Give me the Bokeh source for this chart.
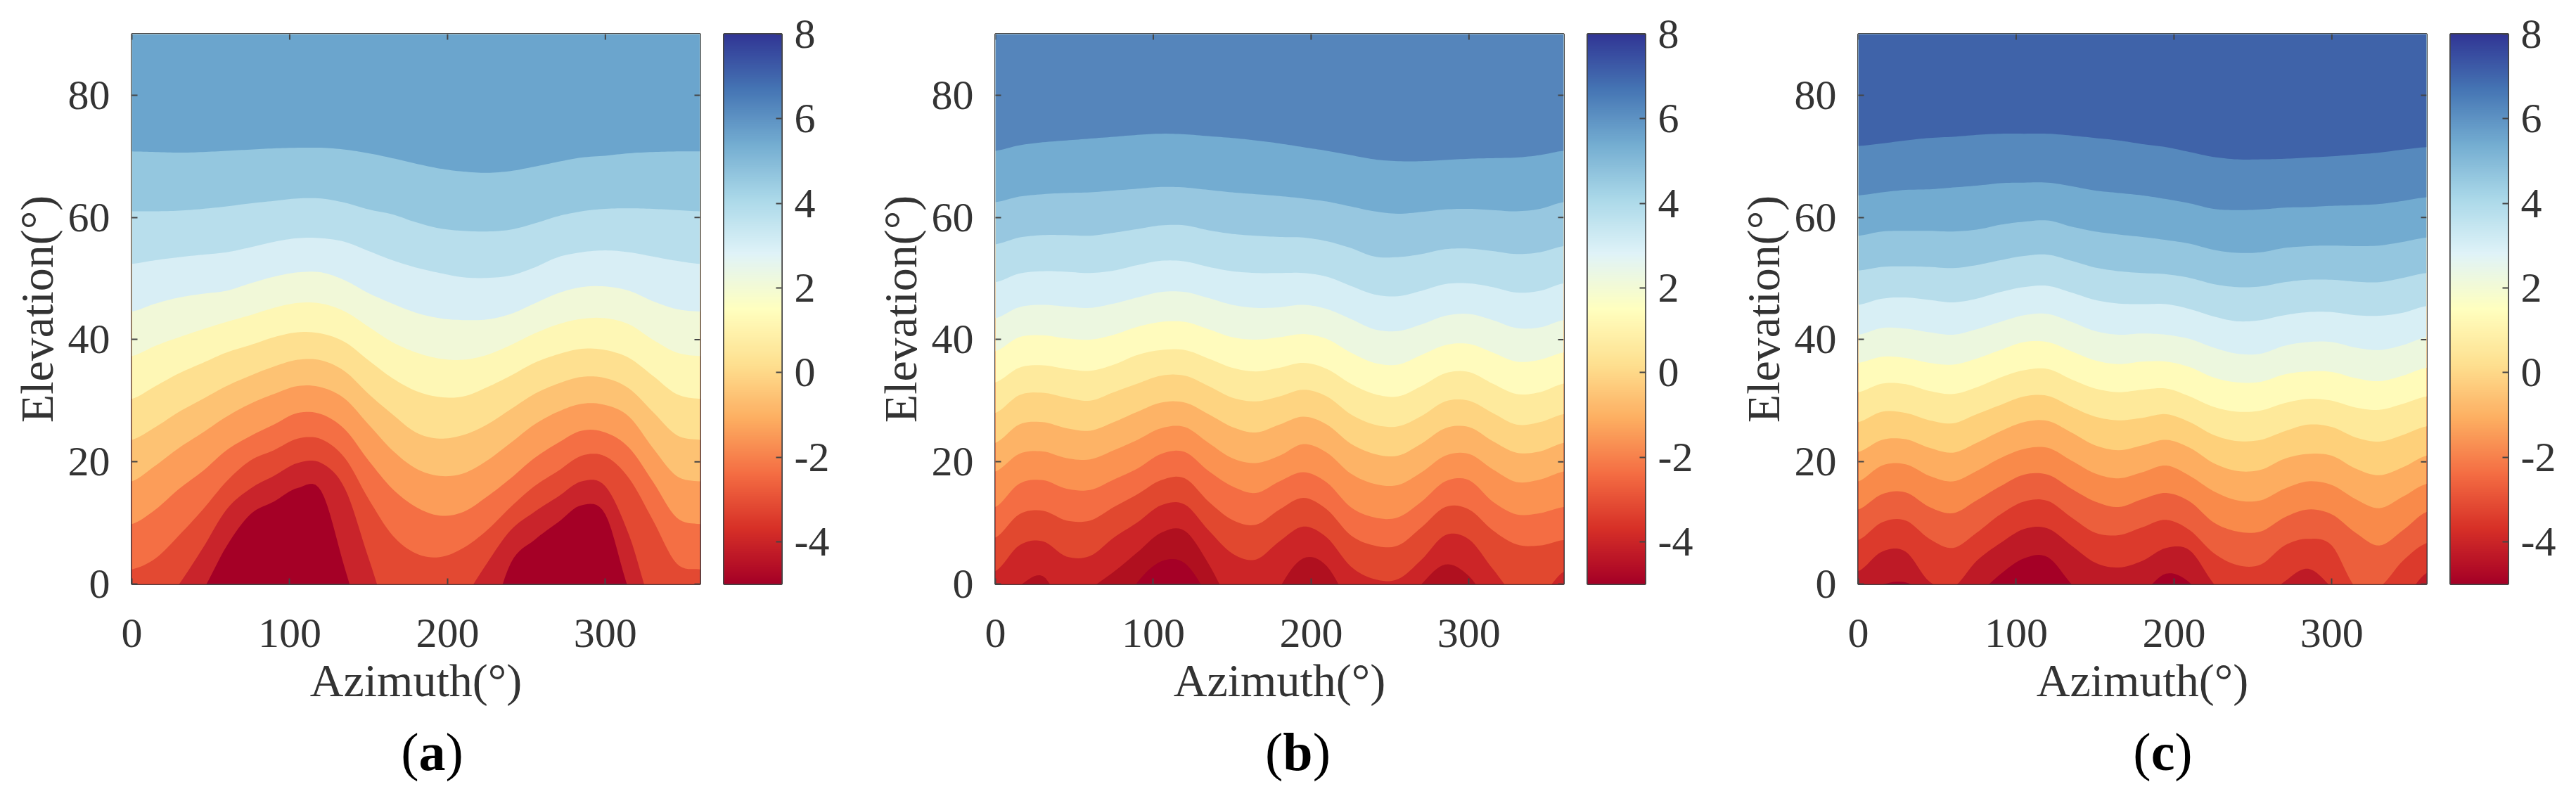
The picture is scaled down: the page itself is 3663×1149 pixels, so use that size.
import numpy as np
from bokeh.core.properties import value
from bokeh.embed import file_html
from bokeh.layouts import column, row
from bokeh.models import FixedTicker, LinearColorMapper, Range1d
from bokeh.plotting import figure
from bokeh.resources import INLINE

AZ = [0, 15, 30, 45, 60, 75, 90, 105, 120, 135, 150, 165, 180, 195, 210, 225, 240, 255, 270, 285, 300, 315, 330, 345, 360]

# Panel (a): contour boundaries, top to bottom
a01 = [70.8,70.7,70.6,70.7,70.9,71.1,71.3,71.4,71.4,71.1,70.5,69.7,68.8,68.0,67.5,67.3,67.6,68.3,69.1,69.8,70.1,70.5,70.7,70.8,70.8]
a02 = [61.0,61.0,61.1,61.4,61.8,62.3,62.7,63.1,63.1,62.4,61.3,60.5,59.2,58.2,57.8,57.7,58.0,59.0,60.2,61.0,61.4,61.5,61.4,61.2,61.0]
a03 = [52.4,53.0,53.5,53.9,54.3,55.1,56.0,56.6,56.6,56.0,54.5,53.0,51.8,50.9,50.2,50.1,50.5,51.8,53.5,54.3,54.6,54.3,53.6,52.9,52.4]
a04 = [44.6,45.9,46.9,47.5,48.0,49.2,50.3,51.0,51.0,49.7,47.6,45.9,44.4,43.5,43.2,43.3,44.2,45.9,47.6,48.6,48.7,48.0,46.3,45.0,44.6]
a05 = [37.3,39.0,40.4,41.7,42.9,44.0,45.2,46.0,45.9,44.6,42.1,39.6,37.9,36.9,36.7,37.5,39.1,41.0,42.5,43.4,43.5,42.5,40.0,37.9,37.3]
a06 = [30.3,32.4,34.5,36.2,37.9,39.1,40.4,41.2,41.0,39.6,36.6,33.7,31.6,30.6,30.7,32.2,34.1,36.2,37.6,38.5,38.3,37.0,34.1,31.1,30.3]
a07 = [23.6,25.7,28.2,30.3,32.4,34.1,35.6,36.7,36.6,34.8,31.1,27.8,24.8,23.8,24.4,26.1,28.6,31.1,32.8,33.9,33.7,32.0,28.2,24.4,23.6]
a08 = [16.8,19.4,22.3,24.8,27.4,29.5,31.1,32.4,32.2,30.3,26.1,21.9,18.9,17.7,18.1,20.2,23.1,26.1,28.2,29.5,29.3,27.4,22.3,17.7,16.8]
a09 = [9.8,12.2,15.6,18.5,21.9,24.2,26.1,28.0,27.8,25.3,20.2,15.6,12.6,11.2,11.8,14.3,17.3,20.6,23.1,25.1,24.8,22.3,16.8,10.9,9.8]
a10 = [2.4,4.2,8.0,12.2,16.8,20.2,21.9,23.8,23.7,20.6,13.9,8.0,5.0,4.4,5.9,8.8,12.6,16.0,18.5,21.0,20.9,17.3,10.5,3.4,2.4]
a11 = [-10,-5,0,5.9,12.2,15.6,17.7,19.8,19.8,15.6,4.2,-7,-12,-12,-3,3.4,8.8,11.8,14.3,16.8,16.0,8.0,-4,-8,-10]
a12 = [-12,-9,-6,-1,6.2,11.4,13.5,15.7,15.2,2.5,-10,-16,-20,-20,-16,-8,3.4,7.2,10.1,12.9,11.4,-1,-8,-12,-12]
A_CURVES = [a01,a02,a03,a04,a05,a06,a07,a08,a09,a10,a11,a12]
A_COLORS = ["#6BA5CD","#94C7DF","#B8DEEC","#D8EEF5","#F1F8D8","#FEF7B5","#FEE090","#FDC273","#FC9D59","#F46F44","#E34932","#C9242B","#A50026"]

# Panel (b)
b01 = [70.9,71.8,72.3,72.6,72.9,73.2,73.5,73.7,73.6,73.3,73.0,72.6,72.1,71.5,70.9,70.2,69.5,69.2,69.2,69.4,69.6,69.7,69.8,70.2,70.9]
b02 = [62.5,63.4,63.8,64.0,64.1,64.4,64.7,65.0,64.9,64.5,64.1,63.8,63.5,63.1,62.6,61.8,61.0,60.6,60.9,61.3,61.4,61.2,61.0,61.4,62.5]
b03 = [55.6,56.7,57.1,57.1,57.0,57.5,58.1,58.7,58.7,57.9,57.3,57.0,56.8,56.7,56.1,55.0,53.6,53.5,54.0,54.8,54.9,54.5,54.0,54.3,55.3]
b04 = [49.4,50.8,51.2,51.1,50.9,51.3,52.2,52.9,52.8,51.9,51.2,50.9,50.9,50.9,50.3,48.8,47.4,47.1,48.0,49.1,49.2,48.6,47.7,48.0,49.2]
b05 = [43.5,45.3,45.7,45.4,45.2,45.9,46.9,47.8,47.8,46.8,45.7,45.2,45.3,45.7,45.0,43.4,41.7,41.4,42.5,43.9,44.2,43.2,41.9,42.0,43.2]
b06 = [38.1,40.4,40.7,40.2,40.0,40.8,42.1,42.9,42.9,41.7,40.4,40.0,40.4,40.9,40.1,37.9,36.2,35.9,37.5,39.1,39.3,37.9,36.4,36.7,37.9]
b07 = [33.0,35.4,35.8,35.2,34.9,35.9,37.5,38.3,38.3,36.9,35.4,34.8,35.4,36.2,35.2,32.8,31.1,30.7,32.4,34.5,34.7,32.8,31.1,31.4,32.8]
b08 = [28.0,30.9,31.3,30.5,30.0,31.4,32.8,34.1,34.1,32.4,30.5,29.9,30.7,31.8,30.7,27.8,26.1,25.8,27.5,29.9,30.0,28.0,26.1,26.5,27.8]
b09 = [23.1,26.1,26.5,25.5,25.1,26.5,28.2,29.7,29.7,27.8,25.7,24.8,26.1,27.4,26.1,23.0,21.3,21.0,23.0,25.5,25.7,23.4,21.5,21.7,23.1]
b10 = [18.4,21.3,21.7,20.6,20.4,21.9,23.6,25.5,25.7,23.1,20.6,19.8,21.0,22.9,21.5,18.1,16.4,16.2,18.3,21.0,21.3,18.8,16.7,17.1,18.4]
b11 = [12.6,16.4,17.0,15.6,15.4,17.1,18.9,21.3,21.6,18.5,16.0,14.9,16.8,18.3,16.6,12.6,10.9,10.9,13.5,16.8,17.0,13.5,11.4,11.6,12.6]
b12 = [7.6,11.4,12.0,10.4,10.4,12.6,14.7,17.0,17.3,13.5,10.5,9.7,12.2,14.1,12.2,8.0,6.3,6.3,9.3,12.6,12.2,8.8,6.5,6.3,7.2]
b13 = [2.1,6.3,7.0,4.5,4.6,7.6,10.1,12.9,13.0,8.8,5.0,4.0,7.0,9.4,7.6,2.9,0.8,0.8,4.0,8.0,7.3,2.5,-2,-2,2]
b14 = [-3,-0.3,1.3,-4,-0.8,2,5.2,8.4,8.7,3.3,-4,-10,-0.7,4.2,2.9,-4,-12,-5,0,3.2,1.3,-4,-6,-6,-5]
b15 = [-8,-8,-8,-8,-8,-6,0.3,3.7,3.4,-2,-8,-8,-8,-8,-8,-8,-8,-8,-8,-8,-8,-8,-8,-8,-8]
B_CURVES = [b01,b02,b03,b04,b05,b06,b07,b08,b09,b10,b11,b12,b13,b14,b15]
B_COLORS = ["#5585BB","#73ACD1","#97C7E0","#B8DEEC","#D6EEF5","#ECF7E0","#FFFBBD","#FEEA9D","#FED481","#FDB366","#FB9251","#F46D43","#E1482F","#CC2527","#B0101F","#A50026"]

# Panel (c)
c01 = [71.7,72.1,72.6,73.0,73.2,73.5,73.7,73.7,73.7,73.4,73.0,72.6,72.0,71.5,70.7,69.9,69.5,69.5,69.6,69.8,70.0,70.3,70.6,71.1,71.5]
c02 = [63.6,64.1,64.5,64.6,64.9,65.2,65.6,65.7,65.7,65.1,64.4,64.0,63.6,63.0,62.3,61.4,61.2,61.3,61.6,61.7,61.9,62.0,62.2,62.7,63.3]
c03 = [57.0,57.7,57.8,57.8,57.7,58.0,58.8,59.3,59.5,58.5,57.7,57.2,56.8,56.3,55.7,54.7,54.2,54.3,55.0,55.3,55.4,55.3,55.4,56.0,56.7]
c04 = [51.3,51.9,52.0,51.9,51.7,52.2,53.0,53.7,53.9,52.9,51.8,51.2,50.9,50.7,50.1,49.1,48.6,48.7,49.4,49.8,49.8,49.5,49.4,50.1,50.9]
c05 = [45.7,46.7,46.9,46.5,46.1,46.7,47.8,48.6,48.8,47.7,46.5,45.9,45.8,45.8,45.0,43.8,43.0,43.2,44.0,44.5,44.5,44.0,43.9,44.4,45.5]
c06 = [40.8,41.9,41.8,41.2,40.8,41.7,42.9,44.0,44.2,42.9,41.4,40.8,41.0,40.8,40.1,38.7,37.7,37.7,39.0,39.6,39.6,38.7,38.3,39.1,40.4]
c07 = [36.2,37.2,37.0,36.2,35.9,36.9,38.3,39.6,39.6,38.1,36.6,36.0,36.4,36.4,35.5,33.8,33.0,33.1,34.3,34.8,34.7,33.7,33.2,34.1,35.4]
c08 = [31.4,32.8,32.7,31.6,31.1,32.2,33.8,35.0,35.2,33.5,32.0,31.4,31.8,32.0,30.7,29.0,28.2,28.4,29.6,30.3,30.0,28.9,28.5,29.5,30.7]
c09 = [26.5,28.2,28.0,26.8,26.3,27.8,29.3,30.7,30.8,29.0,27.4,26.8,27.2,27.8,26.5,24.4,23.4,23.6,25.0,26.1,25.7,24.0,23.3,24.4,25.8]
c10 = [21.6,23.6,23.7,22.3,21.5,23.1,25.0,26.5,26.7,24.8,22.7,21.9,22.7,23.6,22.3,19.8,18.5,18.7,20.5,21.3,21.0,18.9,17.8,19.1,21.0]
c11 = [16.8,19.4,19.6,17.7,16.8,18.5,20.6,22.1,22.3,20.2,18.1,17.3,18.3,19.4,17.7,15.2,13.7,13.7,15.6,16.8,16.2,13.9,12.4,14.3,16.4]
c12 = [12.2,14.7,15.0,12.6,11.6,13.7,16.0,17.9,17.9,15.6,13.5,12.6,13.9,14.9,13.5,10.1,8.6,8.6,10.9,12.2,11.4,8.4,6.3,8.8,11.8]
c13 = [7.2,10.1,10.4,7.4,5.9,8.4,11.4,13.5,13.6,10.9,8.4,8.0,9.3,10.5,8.8,5.1,3.1,3.2,6.3,7.4,6.3,-0.5,-0.5,3.8,6.7]
c14 = [2.1,5.3,5.3,0.4,-0.5,3.8,6.7,9.0,9.1,6.3,3.5,2.7,3.8,5.9,5.5,0.1,-4,-3,0.4,2.5,-0.6,-5,-8,-3,1.8]
c15 = [-2,-0.1,0.25,-2,-6,-2,1.6,4.2,4.4,0,-4,-5,-1.6,1.7,0.2,-5,-6,-6,-6,-6,-6,-6,-6,-6,-3]
C_CURVES = [c01,c02,c03,c04,c05,c06,c07,c08,c09,c10,c11,c12,c13,c14,c15]
C_COLORS = ["#3F63A9","#5689BD","#72ABD0","#94C6DF","#B7DDEB","#D8EFF5","#ECF7DE","#FFFBBA","#FEE99A","#FED07A","#FDAD60","#F98A4A","#EC5F3C","#DC3A2C","#BE1A26","#A50026"]

X_TICKS = [0, 100, 200, 300]
Y_TICKS = [0, 20, 40, 60, 80]
CB_TICKS = [-4, -2, 0, 2, 4, 6, 8]
CB_LABELS = {-4: "-4", -2: "-2", 0: "0", 2: "2", 4: "4", 6: "6", 8: "8"}
CB_ANCHORS = ["#a50026","#d73027","#f46d43","#fdae61","#fee090","#ffffbf","#e0f3f8","#abd9e9","#74add1","#4575b4","#313695"]
LETTERS = ["a", "b", "c"]

FONT = "Liberation Serif"
INK = "#333333"
FRAME = "#444444"
TICK_PX = 60
TITLE_PX = 66
TAG_PX = 76
TICK_LEN = 8
FRAME_W, FRAME_H, CB_W = 808, 782, 82
TOP, BOTTOM = 48, 200
PAGE_W, CAPTION_H, CAPTION_BASE, CAPTION_PULL = 3655, 111, 48, 25
CAPTION_CENTERS = {"a": 614, "b": 1845, "c": 3075}
CAPTION_EM = {"a": 0.5, "b": 0.556, "c": 0.444}


def smooth(x, y, steps=8):
    """Draw-time Catmull-Rom outline through the read values; it passes exactly through each one."""
    x, y = np.asarray(x, float), np.asarray(y, float)
    px, py = [], []
    for i in range(len(x) - 1):
        p0 = y[max(i - 1, 0)]
        p1, p2 = y[i], y[i + 1]
        p3 = y[min(i + 2, len(y) - 1)]
        t = np.arange(steps) / steps
        px.extend(x[i] + t * (x[i + 1] - x[i]))
        py.extend(0.5 * (2 * p1 + (p2 - p0) * t + (2 * p0 - 5 * p1 + 4 * p2 - p3) * t ** 2
                         + (3 * p1 - p0 - 3 * p2 + p3) * t ** 3))
    px.append(x[-1])
    py.append(y[-1])
    return np.array(px), np.array(py)


def gradient():
    rgb = np.array([[int(c[i:i + 2], 16) for i in (1, 3, 5)] for c in CB_ANCHORS], float)
    pos = np.linspace(0, 1, len(CB_ANCHORS))
    t = np.linspace(0, 1, 512)
    chans = [np.interp(t, pos, rgb[:, k]).round().astype(int) for k in range(3)]
    return ["#%02x%02x%02x" % (r, g, b) for r, g, b in zip(*chans)]


def main_panel(curves, colors, left):
    p = figure(frame_width=FRAME_W, frame_height=FRAME_H, x_range=Range1d(0, 360), y_range=Range1d(0, 90),
               toolbar_location=None, output_backend="svg",
               min_border_left=left, min_border_right=10, min_border_top=TOP, min_border_bottom=BOTTOM,
               x_axis_label="Azimuth(°)", y_axis_label="Elevation(°)")
    p.grid.visible = False
    p.outline_line_color = FRAME
    p.outline_line_width = 3
    az = np.array(AZ, float)
    p.varea(az, y1=np.zeros_like(az), y2=np.full_like(az, 90.0), fill_color=colors[-1])
    for curve, color in zip(reversed(curves), reversed(colors[:-1])):
        sx, sy = smooth(AZ, curve)
        p.varea(sx, y1=sy, y2=np.full_like(sx, 90.0), fill_color=color)
    for ax, ticks in ((p.xaxis[0], X_TICKS), (p.yaxis[0], Y_TICKS)):
        ax.ticker = FixedTicker(ticks=ticks)
        ax.major_tick_in, ax.major_tick_out = TICK_LEN, 0
        ax.minor_tick_line_color = None
        ax.major_tick_line_color = FRAME
        ax.major_tick_line_width = 2
        ax.axis_line_color = None
        ax.major_label_text_font = FONT
        ax.major_label_text_font_size = f"{TICK_PX}px"
        ax.major_label_text_color = INK
        ax.axis_label_text_font = FONT
        ax.axis_label_text_font_style = "normal"
        ax.axis_label_text_font_size = f"{TITLE_PX}px"
        ax.axis_label_text_color = INK
    p.xaxis[0].major_label_standoff = 50
    p.xaxis[0].axis_label_standoff = 8
    p.yaxis[0].major_label_standoff = 31
    p.yaxis[0].axis_label_standoff = 5
    # MATLAB-style box: the same inward ticks on the top and right edges
    p.ray(x=X_TICKS, y=[90] * len(X_TICKS), length=TICK_LEN, length_units="screen", angle=-np.pi / 2,
          line_color=FRAME, line_width=2)
    p.ray(x=[360] * len(Y_TICKS), y=Y_TICKS, length=TICK_LEN, length_units="screen", angle=np.pi,
          line_color=FRAME, line_width=2)
    return p


def colorbar(right):
    p = figure(frame_width=CB_W, frame_height=FRAME_H, x_range=Range1d(0, 1), y_range=Range1d(-5, 8),
               toolbar_location=None, output_backend="svg", y_axis_location="right",
               min_border_left=24, min_border_right=right, min_border_top=TOP, min_border_bottom=BOTTOM)
    p.grid.visible = False
    p.xaxis.visible = False
    p.outline_line_color = FRAME
    p.outline_line_width = 3
    mapper = LinearColorMapper(palette=gradient(), low=-5, high=8)
    p.image(image=[np.linspace(-5, 8, 512).reshape(512, 1)], x=0, y=-5, dw=1, dh=13, color_mapper=mapper)
    ax = p.yaxis[0]
    ax.ticker = FixedTicker(ticks=CB_TICKS)
    ax.major_label_overrides = CB_LABELS
    ax.major_tick_in, ax.major_tick_out = TICK_LEN, 0
    ax.minor_tick_line_color = None
    ax.major_tick_line_color = FRAME
    ax.major_tick_line_width = 2
    ax.axis_line_color = None
    ax.major_label_standoff = 18
    ax.major_label_text_font = FONT
    ax.major_label_text_font_size = f"{TICK_PX}px"
    ax.major_label_text_color = INK
    return p


def captions():
    # x and y in this strip run in page pixels; brackets are regular, the letter bold
    p = figure(width=PAGE_W, height=CAPTION_H, x_range=Range1d(0, PAGE_W), y_range=Range1d(0, CAPTION_H),
               toolbar_location=None, output_backend="svg", x_axis_type=None, y_axis_type=None,
               min_border=0, outline_line_color=None, background_fill_color=None, border_fill_color=None,
               margin=(-CAPTION_PULL, 0, 0, 0))
    p.grid.visible = False
    for letter in LETTERS:
        em = CAPTION_EM[letter]
        start = CAPTION_CENTERS[letter] - (0.666 + em) * TAG_PX / 2
        opts = dict(y=[CAPTION_BASE], text_font=value(FONT), text_font_size=f"{TAG_PX}px", text_color="#000000",
                    text_baseline="alphabetic", text_align="left")
        p.text(x=[start], text=["("], **opts)
        p.text(x=[start + 0.333 * TAG_PX], text=[letter], text_font_style="bold", **opts)
        p.text(x=[start + (0.333 + em) * TAG_PX], text=[")"], **opts)
    return p


layout = column(
    row(
        main_panel(A_CURVES, A_COLORS, 187), colorbar(89),
        main_panel(B_CURVES, B_COLORS, 215), colorbar(91),
        main_panel(C_CURVES, C_COLORS, 212), colorbar(89),
        spacing=0,
    ),
    captions(),
    spacing=0,
)
open("out.html", "w").write(file_html(layout, INLINE))
